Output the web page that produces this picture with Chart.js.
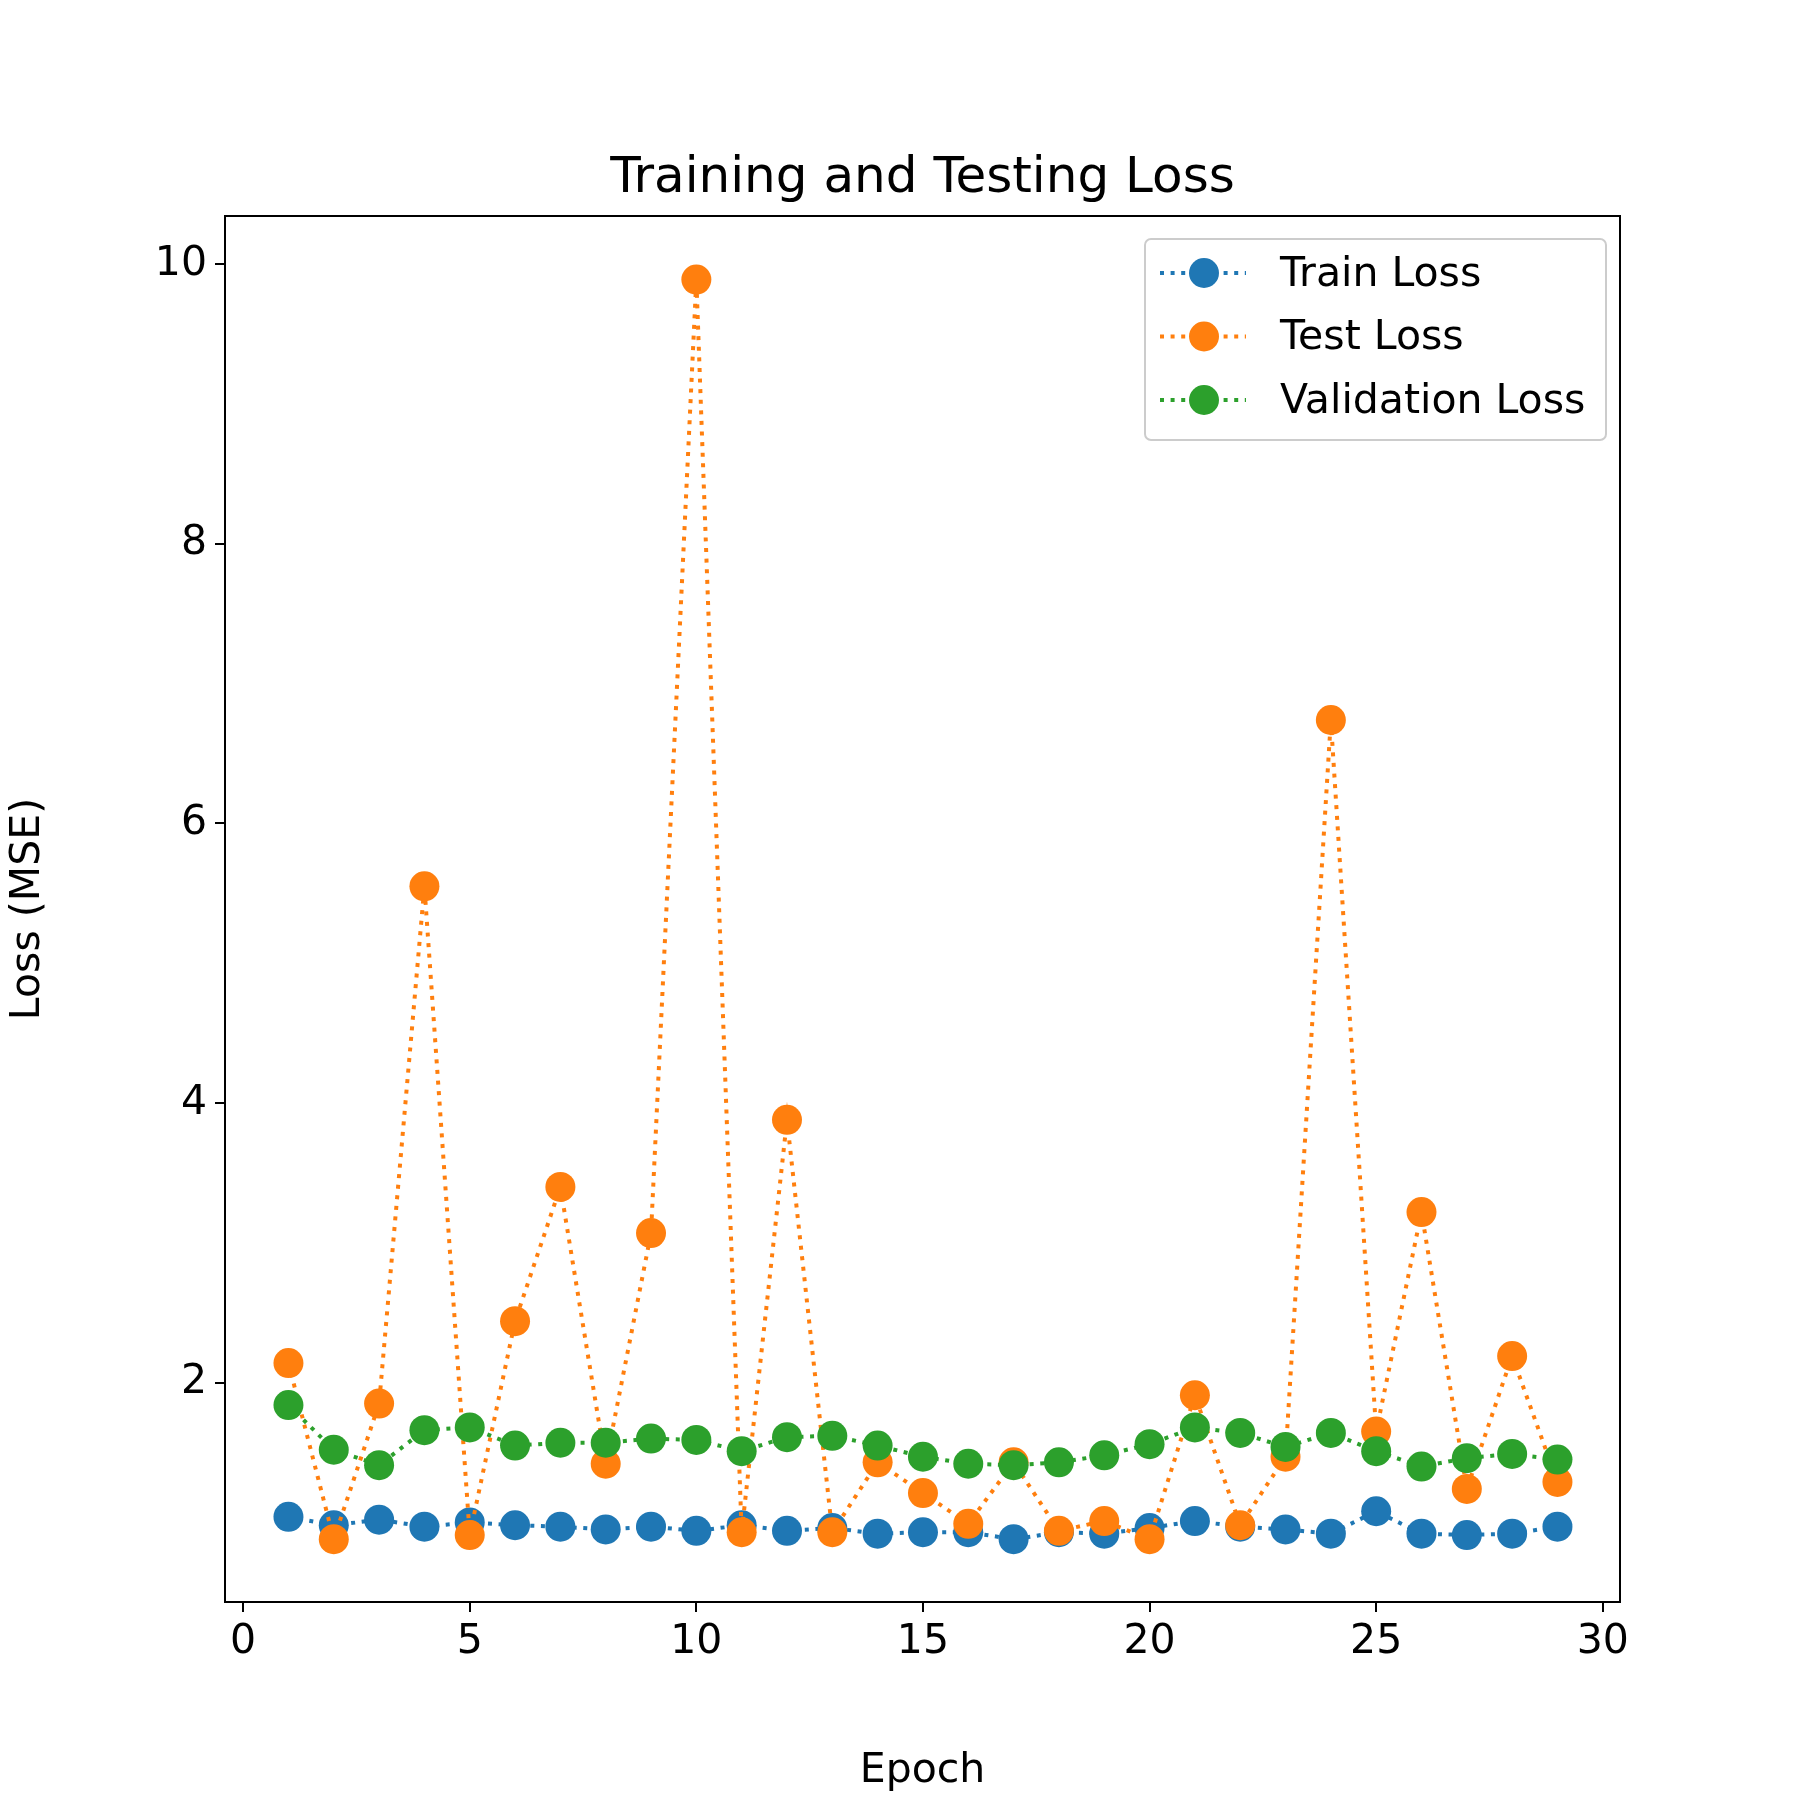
<!DOCTYPE html>
<html>
<head>
<script src="https://cdn.jsdelivr.net/npm/chart.js@4"></script>
<style>body{margin:0;background:#fff}</style>
</head>
<body>
<canvas id="c" width="1800" height="1800"></canvas>
<script>
const epochs = [1,2,3,4,5,6,7,8,9,10,11,12,13,14,15,16,17,18,19,20,21,22,23,24,25,26,27,28,29];
const trainLoss = [1.04,0.98,1.02,0.97,1.0,0.98,0.97,0.95,0.97,0.94,0.98,0.94,0.96,0.92,0.93,0.93,0.88,0.93,0.92,0.96,1.01,0.97,0.95,0.92,1.08,0.92,0.91,0.92,0.97];
const testLoss = [2.14,0.88,1.85,5.55,0.91,2.44,3.40,1.42,3.07,9.89,0.93,3.88,0.93,1.43,1.21,0.99,1.43,0.94,1.01,0.88,1.91,0.98,1.47,6.74,1.65,3.22,1.24,2.19,1.29];
const valLoss = [1.84,1.52,1.41,1.66,1.68,1.55,1.57,1.57,1.60,1.59,1.51,1.61,1.62,1.55,1.47,1.42,1.41,1.43,1.48,1.56,1.68,1.64,1.54,1.64,1.51,1.40,1.46,1.49,1.45];
const xTicks = [0,5,10,15,20,25,30];
const yTicks = [2,4,6,8,10];

const FONT = "'DejaVu Sans'";
const series = [
  {label: "Train Loss", data: trainLoss, color: "#1f77b4", order: 3},
  {label: "Test Loss", data: testLoss, color: "#ff7f0e", order: 2},
  {label: "Validation Loss", data: valLoss, color: "#2ca02c", order: 1}
];

const frame = {
  id: "frame",
  afterDraw(chart) {
    const c = chart.ctx, a = chart.chartArea;
    c.save();
    c.strokeStyle = "#000"; c.lineWidth = 2;
    c.strokeRect(a.left, a.top, a.right - a.left, a.bottom - a.top);
    c.fillStyle = "#000";
    c.font = `50px ${FONT}`;
    c.textAlign = "center"; c.textBaseline = "alphabetic";
    c.fillText("Training and Testing Loss", (a.left + a.right) / 2, 192);
    // legend
    const bx = 1145, by = 239, bw = 461, bh = 201;
    c.fillStyle = "rgba(255,255,255,0.8)";
    c.strokeStyle = "#cccccc"; c.lineWidth = 2;
    c.beginPath(); c.roundRect(bx, by, bw, bh, 6); c.fill(); c.stroke();
    series.forEach((s, i) => {
      const y = 273 + i * 63.5;
      c.strokeStyle = s.color; c.lineWidth = 4; c.setLineDash([4, 6.6]);
      c.beginPath(); c.moveTo(1160, y); c.lineTo(1246, y); c.stroke();
      c.setLineDash([]);
      c.fillStyle = s.color;
      c.beginPath(); c.arc(1204, y, 15, 0, Math.PI * 2); c.fill();
      c.fillStyle = "#000"; c.font = `41px ${FONT}`;
      c.textAlign = "left"; c.textBaseline = "middle";
      c.fillText(s.label, 1280, y + 2);
    });
    c.restore();
  }
};

new Chart(document.getElementById("c"), {
  type: "line",
  data: {
    datasets: series.map(s => ({
      label: s.label,
      data: epochs.map((e, i) => ({x: e, y: s.data[i]})),
      borderColor: s.color,
      backgroundColor: s.color,
      borderWidth: 4,
      borderDash: [4, 6.6],
      pointRadius: 15,
      pointBorderWidth: 0,
      order: s.order,
      tension: 0
    }))
  },
  options: {
    responsive: false,
    animation: false,
    devicePixelRatio: 1,
    layout: {padding: {left: 0, top: 216, right: 180, bottom: 0}},
    plugins: {legend: {display: false}, tooltip: {enabled: false}},
    scales: {
      x: {
        type: "linear", min: -0.4, max: 30.38,
        afterBuildTicks: s => { s.ticks = xTicks.map(v => ({value: v})); },
        afterFit: s => { s.height = 198; },
        grid: {drawOnChartArea: false, color: "#000", lineWidth: 2, tickLength: 10},
        border: {color: "#000", width: 2},
        ticks: {color: "#000", font: {family: FONT, size: 41}, padding: 6, maxRotation: 0},
        title: {display: true, text: "Epoch", color: "#000", font: {family: FONT, size: 41}, padding: {top: 8}}
      },
      y: {
        type: "linear", min: 0.431, max: 10.345,
        afterBuildTicks: s => { s.ticks = yTicks.map(v => ({value: v})); },
        afterFit: s => { s.width = 225; },
        grid: {drawOnChartArea: false, color: "#000", lineWidth: 2, tickLength: 10},
        border: {color: "#000", width: 2},
        ticks: {color: "#000", font: {family: FONT, size: 41}, padding: 8},
        title: {display: true, text: "Loss (MSE)", color: "#000", font: {family: FONT, size: 41}, padding: {bottom: 18}}
      }
    }
  },
  plugins: [frame]
});
</script>
</body>
</html>
